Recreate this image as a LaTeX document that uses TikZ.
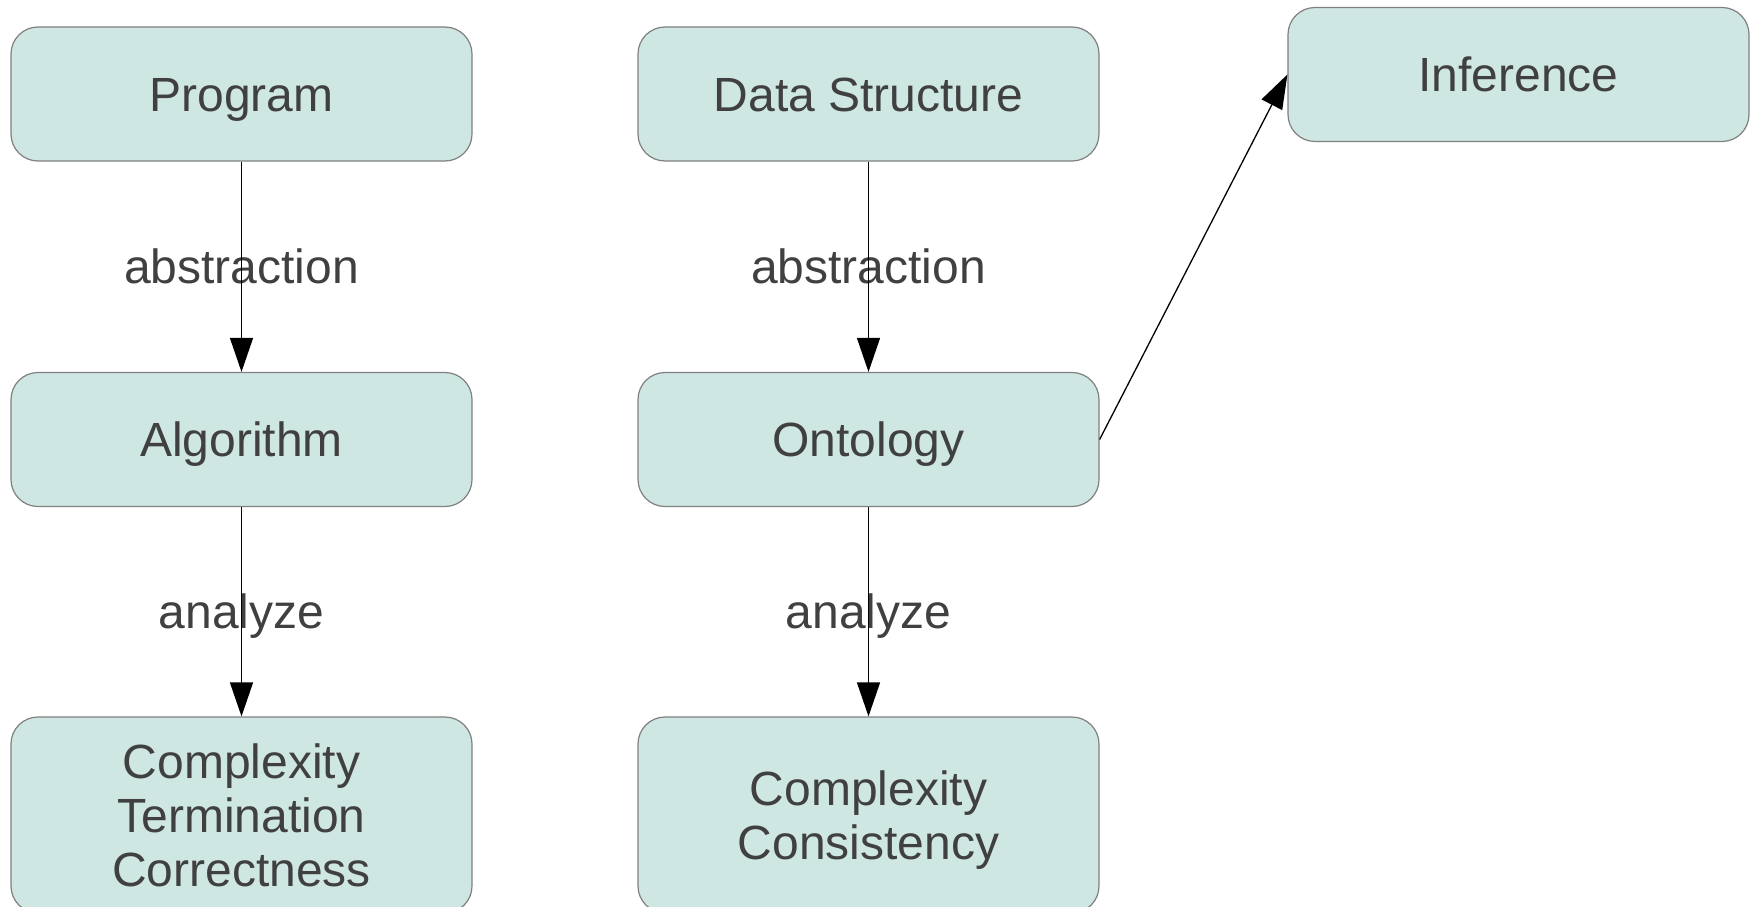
\documentclass[tikz,border=0pt]{standalone}
\usepackage{fontspec}
\setmainfont{Liberation Sans}
\usetikzlibrary{arrows.meta}
\definecolor{boxfill}{RGB}{207,231,227}
\definecolor{boxline}{RGB}{128,128,128}
\definecolor{txtcol}{RGB}{64,64,64}
\tikzset{
  box/.style={draw=boxline, line width=1.2pt, fill=boxfill, rounded corners=27pt,
    minimum width=461pt, inner sep=0pt, text=txtcol, align=center,
    font=\fontsize{48pt}{54pt}\selectfont},
  onebox/.style={box, minimum height=134pt, text height=34.5pt, text depth=0pt},
  tallbox/.style={box, minimum height=196pt},
  lbl/.style={text=txtcol, anchor=base, inner sep=0pt, font=\fontsize{48pt}{54pt}\selectfont},
  conn/.style={draw=black, line width=1.3pt, -{Triangle[length=34pt, width=23pt]}}
}
\begin{document}
\begin{tikzpicture}[x=1pt, y=-1pt]
\useasboundingbox (0,0) rectangle (1750,907);
\clip (0,0) rectangle (1750,907);
\node[onebox] (prog) at (241.5,94) {Program};
\node[onebox] (alg) at (241.5,439.5) {Algorithm};
\node[tallbox] (ctc) at (241.5,815) {Complexity\\Termination\\Correctness};
\node[onebox] (ds) at (868.5,94) {Data Structure};
\node[onebox] (ont) at (868.5,439.5) {Ontology};
\node[tallbox, text depth=0pt] (cc) at (868.5,815) {Complexity\\Consistency};
\node[onebox] (inf) at (1518.5,74.5) {Inference};
\node[lbl] (l1) at (241.5,283) {abstraction};
\node[lbl] (l2) at (241.5,628.5) {analyze};
\node[lbl] (l3) at (868.5,283) {abstraction};
\node[lbl] (l4) at (868.5,628.5) {analyze};
\draw[conn] (prog) -- (alg);
\draw[conn] (alg) -- (ctc);
\draw[conn] (ds) -- (ont);
\draw[conn] (ont) -- (cc);
\draw[conn] (ont.east) -- (inf.west);
\end{tikzpicture}
\end{document}
